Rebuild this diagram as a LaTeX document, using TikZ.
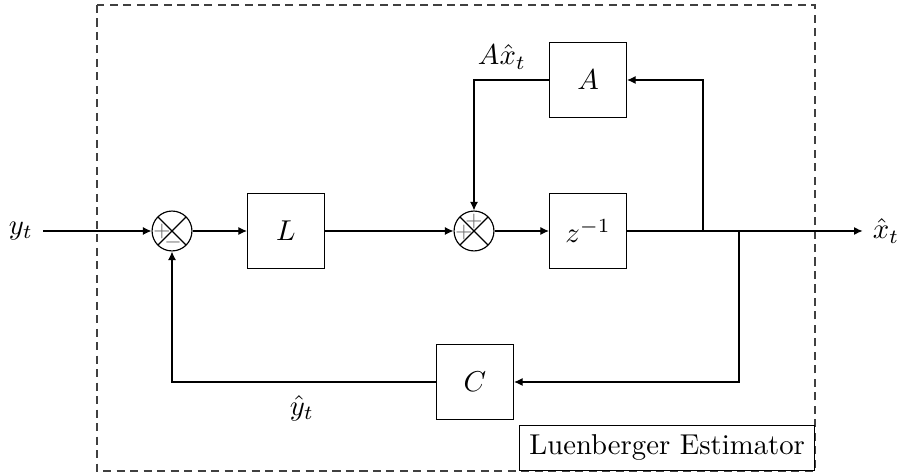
\documentclass[tikz,border=0pt]{standalone}
\usetikzlibrary{arrows.meta}
\begin{document}
\begin{tikzpicture}[x=0.3484pt,y=-0.3484pt,
  blk/.style={draw, minimum width=26.8pt, minimum height=26.4pt, inner sep=0pt},
  sumj/.style={draw, circle, minimum size=13.9pt, inner sep=0pt,
    path picture={\draw (path picture bounding box.north west) -- (path picture bounding box.south east)
      (path picture bounding box.north east) -- (path picture bounding box.south west);}},
  sgn/.style={font=\scriptsize, text=black!55, inner sep=0pt},
  arr/.style={-{Latex[length=3pt,width=2.8pt]}},
  lbl/.style={inner sep=0pt}]
\useasboundingbox (0,0) rectangle (903,475);
\draw[draw=black!75, dash pattern=on 2.8pt off 1.9pt] (97,5) rectangle (815,471);
\node[sumj] (s1) at (172,231) {};
\node[sgn] (p1) at (162,231) {$+$};
\node[sgn] (m1) at (173,242) {$-$};
\node[blk] (L) at (286,231) {$L$};
\node[sumj] (s2) at (474,231) {};
\node[sgn] (p2) at (464,232) {$+$};
\node[sgn] (p3) at (474,221) {$+$};
\node[blk] (z) at (588,231) {$z^{-1}$};
\node[blk] (A) at (588,80) {$A$};
\node[blk] (C) at (475,382) {$C$};
\node (yt) at (21,231) {$y_t$};
\node (xt) at (886,231) {$\hat{x}_t$};
\coordinate (b1) at (703,231);
\coordinate (b2) at (739,231);
\draw[arr] (yt) -- (s1);
\draw[arr] (s1) -- (L);
\draw[arr] (L) -- (s2);
\draw[arr] (s2) -- (z);
\draw[arr] (z) -- (xt);
\draw[arr] (b1) |- (A);
\draw[arr] (A.west) -| (s2.north);
\draw[arr] (b2) |- (C);
\draw[arr] (C.west) -| (s1.south);
\node[lbl] (ax) at (502,57) {$A\hat{x}_t$};
\node[lbl] (yh) at (302,408) {$\hat{y}_t$};
\node[draw, fill=white, anchor=south east] (le) at (815,471) {Luenberger Estimator};
\end{tikzpicture}
\end{document}
